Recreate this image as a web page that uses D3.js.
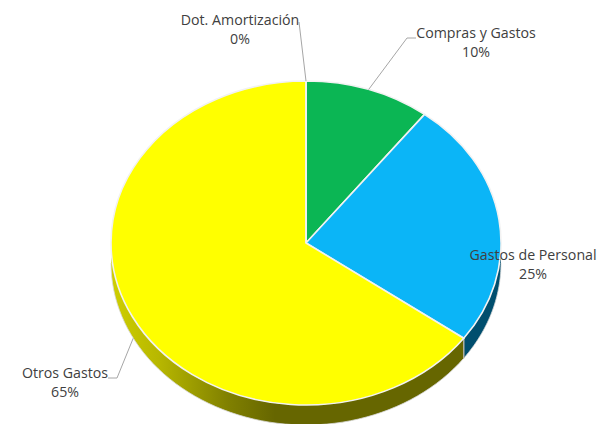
<!DOCTYPE html>
<html><head><meta charset="utf-8">
<script src="https://cdn.jsdelivr.net/npm/d3@7"></script>
<style>html,body{margin:0;background:#fff}svg{display:block}text{font-family:"Open Sans",sans-serif;font-size:14.2px;fill:#404040;text-anchor:middle}</style>
</head><body><svg id="c" width="599" height="424"></svg>
<script>
const categories=["Compras y Gastos","Gastos de Personal","Otros Gastos","Dot. Amortización"];
const values=[10.4,24.6,65.0,0.0];
const labels=["10%","25%","65%","0%"];
const topColors=["#0BB654","#0BB5F7","#FFFF00","#A0A0A0"];
const labelX=[476,533,65,240];
const labelY=[38,260,378,25];
const leaderKnee=[[407,38],null,[117,378],[299,22]];
const leaderStart=[[416,38],null,[108,378],null];

const cx=306,cy=243,rx=195,ry=162,depth=20;
const svg=d3.select("#c");
const defs=svg.append("defs");
const g=defs.append("linearGradient").attr("id","yw").attr("gradientUnits","userSpaceOnUse").attr("x1",cx-rx).attr("x2",cx+rx).attr("y1",0).attr("y2",0);
[[0,"#cfcf00"],[0.12,"#b8b800"],[0.3,"#808000"],[0.42,"#666600"],[1,"#666600"]].forEach(s=>g.append("stop").attr("offset",s[0]).attr("stop-color",s[1]));
const wallFill=["#06602c","#004e6e","url(#yw)","#888"];

const pie=d3.pie().sort(null).value(d=>d)(values);
const sx=d3.scaleLinear().domain([-1,1]).range([cx-rx,cx+rx]);
const sy=d3.scaleLinear().domain([-1,1]).range([cy-ry,cy+ry]);
const pt=(a,dy=0)=>[sx(Math.sin(a)),sy(-Math.cos(a))+dy];

// side walls (front half of the ellipse only)
pie.forEach((d,i)=>{
  const a0=Math.max(d.startAngle,Math.PI/2),a1=Math.min(d.endAngle,Math.PI*1.5);
  if(a1<=a0) return;
  const as=d3.range(0,61).map(k=>a0+(a1-a0)*k/60);
  const path=[...as.map(a=>pt(a,0)),...as.slice().reverse().map(a=>pt(a,depth))];
  svg.append("path").attr("d",d3.line()(path)+"Z").attr("fill",wallFill[i]);
  svg.append("path").attr("d",d3.line()(as.map(a=>pt(a,depth)))).attr("fill","none").attr("stroke","#d8d8d8").attr("stroke-width",0.8);
});
// wall seam between blue and yellow
{const a=pie[1].endAngle;svg.append("path").attr("d",d3.line()([pt(a,0),pt(a,depth)])).attr("stroke","#b0b0a0").attr("stroke-width",1.5);}

// top slices
const arc=d3.arc().innerRadius(0).outerRadius(1);
const pieTop=svg.append("g").attr("transform",`translate(${cx},${cy}) scale(${rx},${ry})`);
pieTop.selectAll("path").data(pie).join("path").attr("d",arc)
  .attr("fill",(d,i)=>topColors[i]).attr("stroke","#f2f2f2").attr("stroke-width",1.6)
  .attr("vector-effect","non-scaling-stroke");

// leaders: from the label, through the knee, to the slice
const leaderEnd=[pt((pie[0].startAngle+pie[0].endAngle)/2),null,pt(4.23,depth),pt(pie[3].startAngle)];
pie.forEach((d,i)=>{
  if(!leaderKnee[i]) return;
  const pts=[leaderStart[i],leaderKnee[i],leaderEnd[i]].filter(Boolean);
  svg.append("path").attr("d",d3.line()(pts)).attr("fill","none").attr("stroke","#a6a6a6").attr("stroke-width",1);
});

// labels
categories.forEach((c,i)=>{
  const t=svg.append("text").attr("x",labelX[i]).attr("y",labelY[i]);
  t.append("tspan").attr("x",labelX[i]).text(c);
  t.append("tspan").attr("x",labelX[i]).attr("dy",19).text(labels[i]);
});
</script></body></html>
